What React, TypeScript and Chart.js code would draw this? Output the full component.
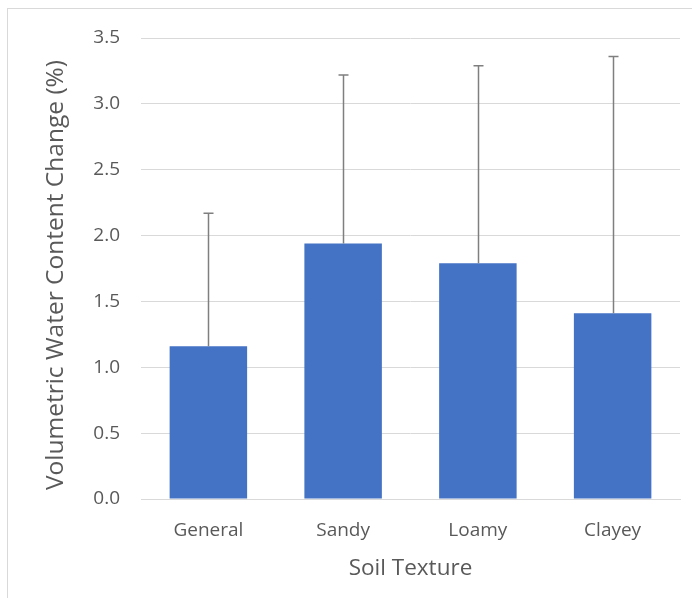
import React, { useEffect, useRef } from "react";
import { Chart, registerables } from "chart.js";

Chart.register(...registerables);

const categories = ["General", "Sandy", "Loamy", "Clayey"];
const meanValues = [1.16, 1.94, 1.79, 1.41];
const errorTops = [2.17, 3.22, 3.29, 3.36];
const yTicks = [0, 0.5, 1.0, 1.5, 2.0, 2.5, 3.0, 3.5];
const yTitle = "Volumetric Water Content Change (%)";

const FONT = "'Open Sans', sans-serif";
const TEXT = "#595959";

const errorBarPlugin = {
  id: "errorBars",
  afterDatasetsDraw(chart: any) {
    const ctx = chart.ctx;
    const meta = chart.getDatasetMeta(0);
    const y = chart.scales.y;
    ctx.save();
    ctx.strokeStyle = "#7f7f7f";
    ctx.lineWidth = 1.5;
    meta.data.forEach((bar: any, i: number) => {
      const x = Math.round(bar.x) + 0.5;
      const yTop = y.getPixelForValue(errorTops[i]);
      const yBase = y.getPixelForValue(meanValues[i]);
      ctx.beginPath();
      ctx.moveTo(x, yBase);
      ctx.lineTo(x, yTop);
      ctx.moveTo(x - 5, yTop);
      ctx.lineTo(x + 5, yTop);
      ctx.stroke();
    });
    ctx.restore();
  },
};

const yTitlePlugin = {
  id: "yTitle",
  afterDraw(chart: any) {
    const ctx = chart.ctx;
    const area = chart.chartArea;
    ctx.save();
    ctx.translate(56, (area.top + area.bottom) / 2 + 6.5);
    ctx.rotate(-Math.PI / 2);
    ctx.fillStyle = TEXT;
    ctx.font = `24.5px ${FONT}`;
    ctx.textAlign = "center";
    ctx.textBaseline = "middle";
    ctx.fillText(yTitle, 0, 0);
    ctx.restore();
  },
};

export default function App() {
  const ref = useRef<HTMLCanvasElement | null>(null);
  useEffect(() => {
    if (!ref.current) return;
    const chart = new Chart(ref.current, {
      type: "bar",
      data: {
        labels: categories,
        datasets: [
          {
            data: meanValues,
            backgroundColor: "#4472c4",
            borderWidth: 0,
            categoryPercentage: 1.0,
            barPercentage: 0.575,
          },
        ],
      },
      plugins: [errorBarPlugin, yTitlePlugin],
      options: {
        animation: false,
        responsive: false,
        maintainAspectRatio: false,
        layout: { padding: { top: 38, right: 12, bottom: 0, left: 0 } },
        plugins: { legend: { display: false }, tooltip: { enabled: false } },
        scales: {
          x: {
            grid: { display: false },
            border: { display: true, color: "#d9d9d9", width: 1 },
            ticks: { color: TEXT, font: { family: FONT, size: 19 }, padding: 12 },
            title: {
              display: true,
              text: "Soil Texture",
              color: TEXT,
              font: { family: FONT, size: 22.5 },
              padding: { top: 0, bottom: 15.5 },
            },
            afterFit: (s: any) => {
              s.height = 99;
            },
          },
          y: {
            min: 0,
            max: 3.5,
            afterBuildTicks: (s: any) => {
              s.ticks = yTicks.map((v) => ({ value: v }));
            },
            grid: { color: "#d9d9d9", drawTicks: false },
            border: { display: false },
            ticks: {
              color: TEXT,
              font: { family: FONT, size: 19 },
              padding: 21,
              callback: (v: any) => Number(v).toFixed(1),
            },
            title: { display: false },
            afterFit: (s: any) => {
              s.width = 141;
            },
          },
        },
      },
    });
    return () => chart.destroy();
  }, []);
  return (
    <div style={{ position: "fixed", left: 0, top: 0, width: 692, height: 598, background: "#fff", overflow: "hidden" }}>
      <div style={{ position: "absolute", left: 7, top: 8, width: 700, height: 600, border: "1px solid #d9d9d9", boxSizing: "border-box" }} />
      <canvas ref={ref} width={692} height={598} style={{ position: "absolute", left: 0, top: 0, display: "block" }} />
    </div>
  );
}
